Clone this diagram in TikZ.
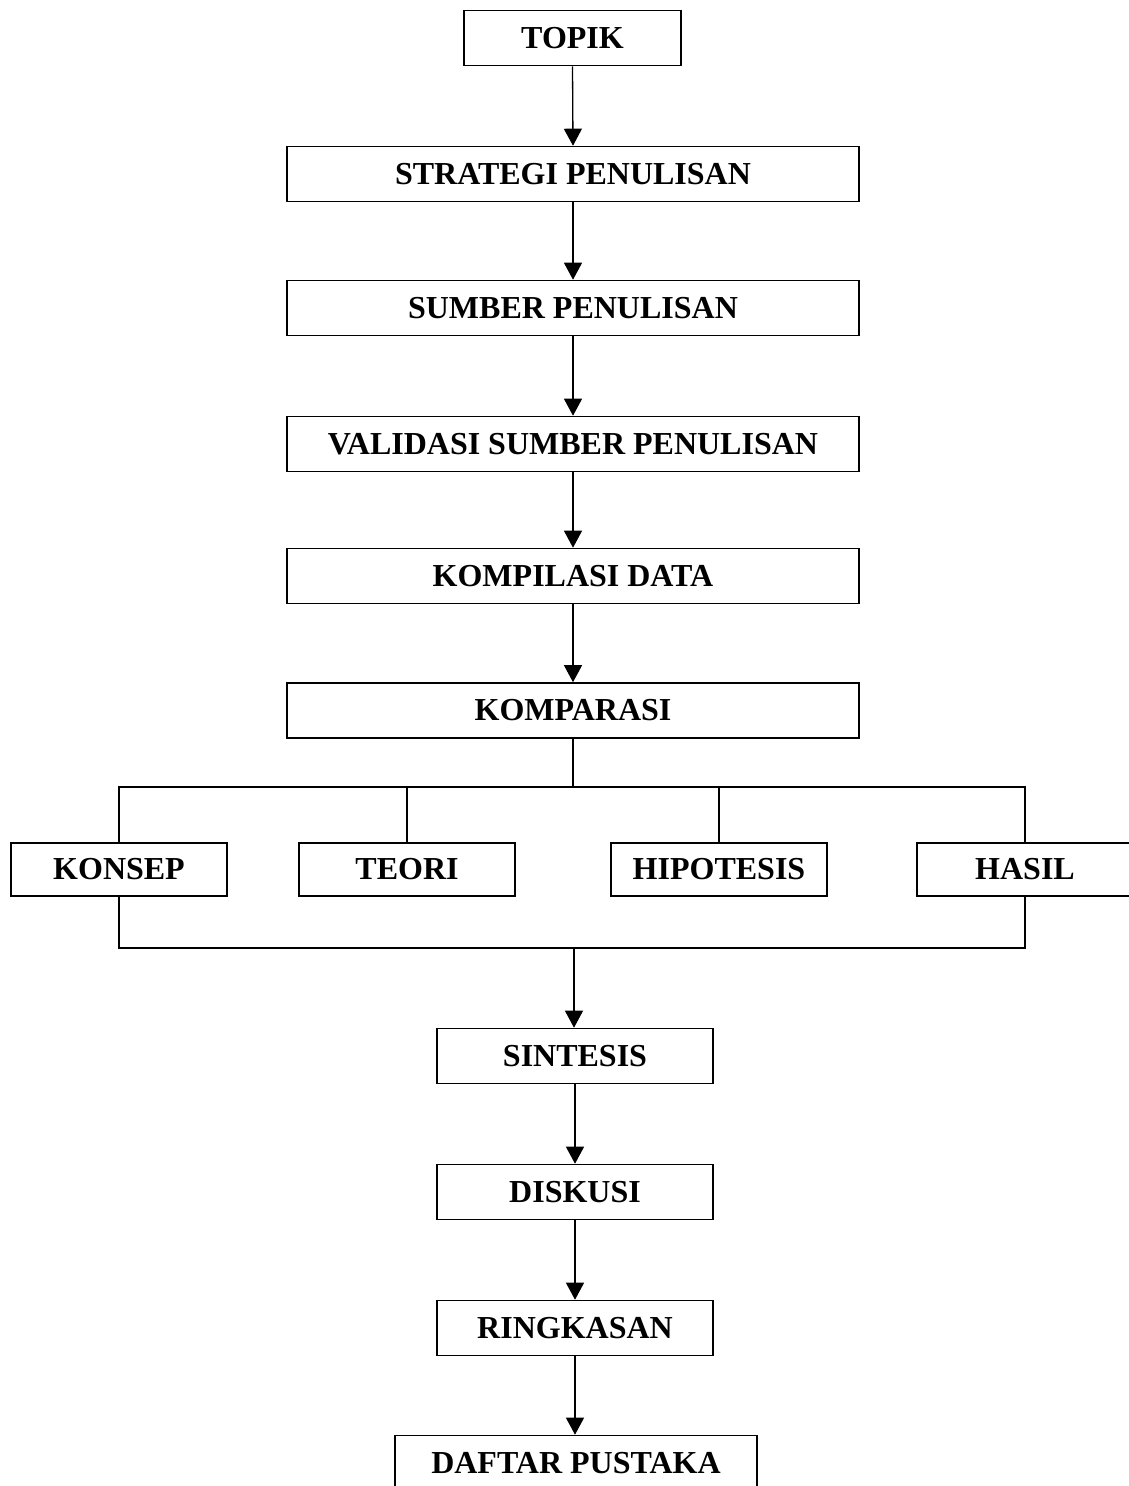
\documentclass[tikz,border=0pt]{standalone}
\usepackage{fontspec}
\setmainfont{Liberation Serif}
\usetikzlibrary{arrows.meta}
\begin{document}
\begin{tikzpicture}[x=1pt,y=-1pt,
  box/.style={draw,line width=1.6pt,rectangle,inner sep=0pt,minimum height=55pt,
    font=\fontsize{32}{38}\selectfont\bfseries},
  arr/.style={line width=1.3pt,-{Triangle[length=17pt,width=18pt]}},
  lin/.style={line width=1.1pt}]
\useasboundingbox (0,0) rectangle (1129,1486);
\node[box,minimum width=217pt] (topik) at (572.5,38) {TOPIK};
\node[box,minimum width=572pt] (strat) at (573,174) {STRATEGI PENULISAN};
\node[box,minimum width=572pt] (sumber) at (573,308) {SUMBER PENULISAN};
\node[box,minimum width=572pt] (valid) at (573,444) {VALIDASI SUMBER PENULISAN};
\node[box,minimum width=572pt] (kompil) at (573,576) {KOMPILASI DATA};
\node[box,minimum width=572pt] (kompar) at (573,710.5) {KOMPARASI};
\node[box,minimum width=216pt,minimum height=53pt] (konsep) at (119,869.5) {KONSEP};
\node[box,minimum width=216pt,minimum height=53pt] (teori) at (407,869.5) {TEORI};
\node[box,minimum width=216pt,minimum height=53pt] (hipo) at (719,869.5) {HIPOTESIS};
\node[box,minimum width=216pt,minimum height=53pt] (hasil) at (1025,869.5) {HASIL};
\node[box,minimum width=276pt] (sint) at (575,1056) {SINTESIS};
\node[box,minimum width=276pt] (disk) at (575,1192) {DISKUSI};
\node[box,minimum width=276pt] (ring) at (575,1328) {RINGKASAN};
\node[box,minimum width=362pt] (daftar) at (576,1463) {DAFTAR PUSTAKA};
\coordinate (bt) at (573,787);
\coordinate (bb) at (574,948);
\draw[arr] (topik.south) -- (strat.north);
\draw[arr] (strat.south) -- (sumber.north);
\draw[arr] (sumber.south) -- (valid.north);
\draw[arr] (valid.south) -- (kompil.north);
\draw[arr] (kompil.south) -- (kompar.north);
\draw[lin] (kompar.south) -- (bt);
\draw[lin] (konsep.north) |- (bt) -| (hasil.north);
\draw[lin] (teori.north) -- (teori.north |- bt);
\draw[lin] (hipo.north) -- (hipo.north |- bt);
\draw[lin] (konsep.south) |- (bb) -| (hasil.south);
\draw[arr] (bb) -- (sint.north -| bb);
\draw[arr] (sint.south) -- (disk.north);
\draw[arr] (disk.south) -- (ring.north);
\draw[arr] (ring.south) -- (ring.south |- daftar.north);
\end{tikzpicture}
\end{document}
